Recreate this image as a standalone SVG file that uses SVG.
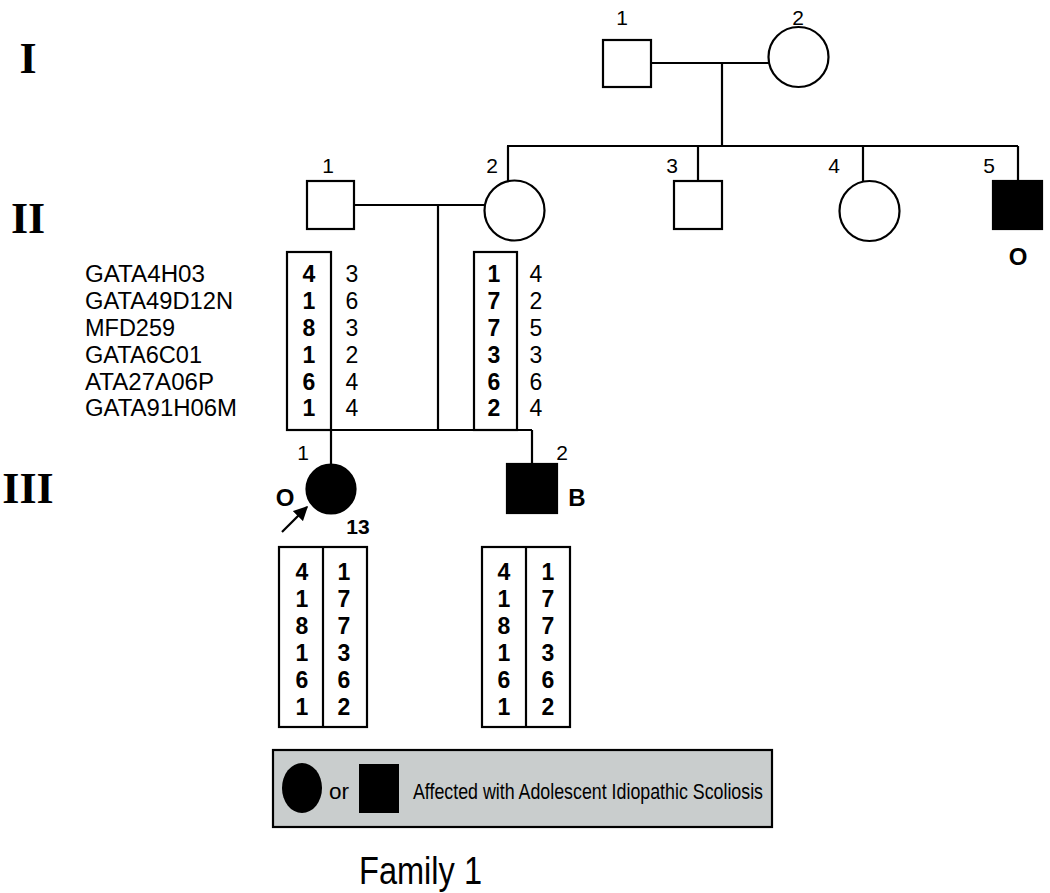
<svg xmlns="http://www.w3.org/2000/svg" width="1050" height="893" viewBox="0 0 1050 893">
<style>
.ln{stroke:#000;stroke-width:2.2;fill:none}
.open{stroke:#000;stroke-width:2.2;fill:#fff}
.aff{stroke:#000;stroke-width:2.2;fill:#000}
.box{stroke:#000;stroke-width:2.2;fill:none}
.t{font-family:"Liberation Sans",Arial,sans-serif;fill:#000}
.num{font-size:21px}
.mk{font-size:23px}
.al{font-size:23px;text-anchor:middle}
.b{font-weight:bold}
.gen{font-family:"Liberation Serif","Times New Roman",serif;font-weight:bold;font-size:44px;text-anchor:middle}
</style>
<defs>
<marker id="ah" viewBox="0 0 10 10" refX="9" refY="5" markerWidth="6.5" markerHeight="6.5" orient="auto" markerUnits="strokeWidth">
<path d="M0,0 L10,5 L0,10 z" fill="#000"/>
</marker>
</defs>
<rect width="1050" height="893" fill="#fff"/>

<!-- generation labels -->
<g id="gen-labels">
<text class="gen" x="28" y="73">I</text>
<text class="gen" x="28" y="233">II</text>
<text class="gen" x="28" y="503">III</text>
</g>

<!-- connectors -->
<g id="connectors">
<line class="ln" x1="651" y1="63" x2="769" y2="63"/>
<line class="ln" x1="722" y1="63" x2="722" y2="146"/>
<line class="ln" x1="507" y1="146" x2="1018" y2="146"/>
<line class="ln" x1="508" y1="146" x2="508" y2="181"/>
<line class="ln" x1="698" y1="146" x2="698" y2="181"/>
<line class="ln" x1="863" y1="146" x2="863" y2="181"/>
<line class="ln" x1="1018" y1="146" x2="1018" y2="181"/>
<line class="ln" x1="354" y1="205" x2="484" y2="205"/>
<line class="ln" x1="438" y1="205" x2="438" y2="430"/>
<line class="ln" x1="331" y1="430" x2="532" y2="430"/>
<line class="ln" x1="331" y1="430" x2="331" y2="464"/>
<line class="ln" x1="532" y1="430" x2="532" y2="464"/>
<line class="ln" x1="282" y1="532" x2="307" y2="507" stroke-width="2.6" marker-end="url(#ah)"/>
</g>

<!-- Generation I -->
<g id="I-1">
<rect class="open" x="603" y="40" width="48" height="47"/>
<text class="t num" x="622" y="25" text-anchor="middle">1</text>
</g>
<g id="I-2">
<circle class="open" cx="798.5" cy="57" r="30"/>
<text class="t num" x="798" y="25" text-anchor="middle">2</text>
</g>

<!-- Generation II -->
<g id="II-1">
<rect class="open" x="307" y="181" width="47" height="48"/>
<text class="t num" x="328" y="173" text-anchor="middle">1</text>
</g>
<g id="II-2">
<circle class="open" cx="514.5" cy="210.5" r="30"/>
<text class="t num" x="492" y="173" text-anchor="middle">2</text>
</g>
<g id="II-3">
<rect class="open" x="674" y="181" width="48" height="48"/>
<text class="t num" x="672" y="173" text-anchor="middle">3</text>
</g>
<g id="II-4">
<circle class="open" cx="869.5" cy="211" r="30"/>
<text class="t num" x="834" y="173" text-anchor="middle">4</text>
</g>
<g id="II-5">
<rect class="aff" x="993" y="181" width="49" height="48"/>
<text class="t num" x="989" y="173" text-anchor="middle">5</text>
<text class="t b" x="1018" y="265" font-size="24" text-anchor="middle">O</text>
</g>

<!-- Marker names -->
<g id="markers">
<text class="t mk" x="85" y="282" textLength="120" lengthAdjust="spacingAndGlyphs">GATA4H03</text>
<text class="t mk" x="85" y="309" textLength="148" lengthAdjust="spacingAndGlyphs">GATA49D12N</text>
<text class="t mk" x="85" y="336" textLength="90" lengthAdjust="spacingAndGlyphs">MFD259</text>
<text class="t mk" x="85" y="363" textLength="117" lengthAdjust="spacingAndGlyphs">GATA6C01</text>
<text class="t mk" x="85" y="390" textLength="129" lengthAdjust="spacingAndGlyphs">ATA27A06P</text>
<text class="t mk" x="85" y="416" textLength="152" lengthAdjust="spacingAndGlyphs">GATA91H06M</text>
</g>

<!-- II-1 haplotypes -->
<g id="hap-II-1">
<rect class="box" x="287" y="252" width="44" height="178"/>
<g class="t al b">
<text x="309" y="282">4</text><text x="309" y="309">1</text><text x="309" y="336">8</text>
<text x="309" y="363">1</text><text x="309" y="390">6</text><text x="309" y="416">1</text>
</g>
<g class="t al">
<text x="352" y="282">3</text><text x="352" y="309">6</text><text x="352" y="336">3</text>
<text x="352" y="363">2</text><text x="352" y="390">4</text><text x="352" y="416">4</text>
</g>
</g>

<!-- II-2 haplotypes -->
<g id="hap-II-2">
<rect class="box" x="474" y="252" width="43" height="178"/>
<g class="t al b">
<text x="494" y="282">1</text><text x="494" y="309">7</text><text x="494" y="336">7</text>
<text x="494" y="363">3</text><text x="494" y="390">6</text><text x="494" y="416">2</text>
</g>
<g class="t al">
<text x="536" y="282">4</text><text x="536" y="309">2</text><text x="536" y="336">5</text>
<text x="536" y="363">3</text><text x="536" y="390">6</text><text x="536" y="416">4</text>
</g>
</g>

<!-- Generation III -->
<g id="III-1">
<circle class="aff" cx="331" cy="489" r="24.5"/>
<text class="t num" x="303" y="460" text-anchor="middle">1</text>
<text class="t b" x="285" y="506" font-size="24" text-anchor="middle">O</text>
<text class="t b" x="358" y="534" font-size="21" text-anchor="middle">13</text>
</g>
<g id="III-2">
<rect class="aff" x="507" y="464" width="50" height="49"/>
<text class="t num" x="562" y="460" text-anchor="middle">2</text>
<text class="t b" x="577" y="506" font-size="24" text-anchor="middle">B</text>
</g>

<!-- III haplotypes -->
<g id="hap-III-1">
<rect class="box" x="279" y="547" width="88" height="180"/>
<line class="ln" x1="323" y1="547" x2="323" y2="727"/>
<g class="t al b">
<text x="302" y="580">4</text><text x="302" y="607">1</text><text x="302" y="634">8</text>
<text x="302" y="661">1</text><text x="302" y="688">6</text><text x="302" y="715">1</text>
<text x="344" y="580">1</text><text x="344" y="607">7</text><text x="344" y="634">7</text>
<text x="344" y="661">3</text><text x="344" y="688">6</text><text x="344" y="715">2</text>
</g>
</g>
<g id="hap-III-2">
<rect class="box" x="482" y="547" width="88" height="180"/>
<line class="ln" x1="526" y1="547" x2="526" y2="727"/>
<g class="t al b">
<text x="504" y="580">4</text><text x="504" y="607">1</text><text x="504" y="634">8</text>
<text x="504" y="661">1</text><text x="504" y="688">6</text><text x="504" y="715">1</text>
<text x="548" y="580">1</text><text x="548" y="607">7</text><text x="548" y="634">7</text>
<text x="548" y="661">3</text><text x="548" y="688">6</text><text x="548" y="715">2</text>
</g>
</g>

<!-- Legend -->
<g id="legend">
<rect x="273" y="750" width="499" height="77" fill="#c9cdcd" stroke="#000" stroke-width="2.2"/>
<ellipse cx="302" cy="788" rx="20" ry="25" fill="#000"/>
<text class="t" x="329" y="799" font-size="22" textLength="20" lengthAdjust="spacingAndGlyphs">or</text>
<rect x="359" y="764" width="40" height="49" fill="#000"/>
<text class="t" x="413" y="799" font-size="22" textLength="350" lengthAdjust="spacingAndGlyphs">Affected with Adolescent Idiopathic Scoliosis</text>
</g>

<g id="title">
<text class="t" x="359" y="884" font-size="38" textLength="123" lengthAdjust="spacingAndGlyphs">Family 1</text>
</g>
</svg>
